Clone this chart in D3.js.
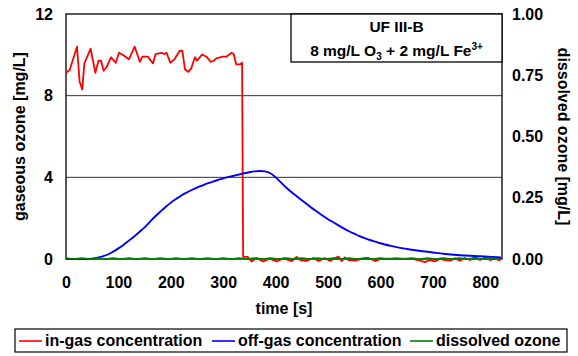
<!DOCTYPE html>
<html><head><meta charset="utf-8">
<script src="https://cdn.jsdelivr.net/npm/d3@7"></script>
<style>
body{margin:0;background:#fff;}
svg text{font-family:"Liberation Sans",Arial,sans-serif;font-weight:bold;fill:#000;}
</style></head>
<body><svg id="c" width="578" height="356"></svg>
<script>
// ---------- data ----------
const xTicks = [0,100,200,300,400,500,600,700,800];
const leftTicks = [0,4,8,12];
const rightTicks = [0,0.25,0.5,0.75,1.0];
const rightTickLabels = ["0.00","0.25","0.50","0.75","1.00"];
const seriesNames = ["in-gas concentration","off-gas concentration","dissolved ozone"];
const seriesColors = ["#ff0000","#0000ff","#008000"];

const inGasTime = [0,7,13,21,26,31,35,47,56,62,67,72,78,86,95,101,109,120,131,141,146,156,166,171,182,188,192,199,207,217,222,227,233,239,246,250,260,268,276,282,287,299,306,316,320,325,332,336,
  338,347,354,364,376,389,402,415,431,440,447,459,472,482,494,504,513,520,526,532,539,552,564,577,590,600,613,629,648,663,676,685,695,704,714,723,733,742,752,761,771,780,790,800,809,819,829];
const inGasValue = [9.12,9.26,9.75,10.4,8.68,8.31,9.58,10.3,9.12,9.71,9.71,9.22,9.42,9.88,9.61,10.1,9.99,9.78,10.4,9.66,9.91,9.91,9.58,10.04,10.1,10.04,10.1,9.61,9.78,10.2,10.2,9.29,9.17,9.34,9.88,9.71,10.02,9.91,9.66,9.71,9.83,9.91,9.91,10.1,10.04,9.53,9.53,9.61,
  0.1,0.1,-0.12,0.05,-0.12,0.02,-0.12,0.03,-0.1,0.1,-0.05,-0.1,0.05,-0.1,0.05,-0.1,0.05,0.12,-0.1,0.08,-0.05,-0.08,0,0.05,-0.1,0,0.02,0,0.02,0,-0.08,-0.15,-0.05,-0.12,0.02,-0.05,-0.08,0.03,-0.08,0.05,-0.05,0.1,-0.05,0.08,-0.05,0.02,-0.08];

const offGasTime = [0,20,40,50,60,70,80,90,100,110,120,130,140,150,160,170,180,190,200,210,220,230,240,250,260,270,280,290,300,310,320,330,340,350,360,370,380,390,400,410,420,430,440,450,460,470,480,490,500,510,520,530,540,550,560,570,580,590,600,620,640,660,680,700,720,740,760,780,800,815,830];
const offGasValue = [0,0,0,0.02,0.06,0.13,0.22,0.36,0.52,0.7,0.9,1.1,1.32,1.55,1.82,2.08,2.32,2.55,2.76,2.94,3.11,3.25,3.38,3.5,3.6,3.7,3.79,3.87,3.95,4.02,4.08,4.14,4.2,4.25,4.29,4.31,4.29,4.2,4.0,3.75,3.5,3.28,3.08,2.88,2.68,2.48,2.3,2.12,1.95,1.8,1.65,1.5,1.36,1.24,1.12,1.02,0.93,0.85,0.77,0.64,0.53,0.45,0.38,0.32,0.26,0.21,0.17,0.15,0.12,0.1,0.07];

const dissolvedTime = [0,15,30,45,60,75,90,105,120,135,150,165,180,195,210,225,240,255,270,285,300,315,330,345,360,375,390,405,420,435,450,465,480,495,510,525,540,555,570,585,600,615,630,645,660,675,690,705,720,735,750,765,780,795,810,825];
const dissolvedValue = [0.004,0,0.004,0,0.004,0,0.004,0,0.004,0,0.004,0,0.004,0,0.004,0,0.004,0,0.004,0,0.004,0,0.004,0,0.004,0,0.004,0,0.004,0,0.004,0,0.004,0,0.004,0,0.004,0,0.004,0,0.004,0,0.004,0,0.004,0,0.004,0,0.004,0,0.004,0,0.004,0,0.004,0];

// ---------- layout ----------
const svg = d3.select("#c");
const L = 66, R = 502, T = 14, B = 259;
const x = d3.scaleLinear().domain([0, 832]).range([L, R]);
const yL = d3.scaleLinear().domain([0, 12]).range([B, T]);
const yR = d3.scaleLinear().domain([0, 1]).range([B, T]);

// gridlines
svg.append("g").selectAll("line").data([4,8]).join("line")
  .attr("x1", L).attr("x2", R).attr("y1", d => yL(d)).attr("y2", d => yL(d))
  .attr("stroke", "#333").attr("stroke-width", 1);

// plot border
svg.append("rect").attr("x", L).attr("y", T).attr("width", R - L).attr("height", B - T)
  .attr("fill", "none").attr("stroke", "#000").attr("stroke-width", 1.3);

// axes
const fs = 16;
const gx = svg.append("g").attr("transform", `translate(0,${B})`)
  .call(d3.axisBottom(x).tickValues(xTicks).tickSize(0).tickFormat(d3.format("d")));
gx.select(".domain").remove();
gx.selectAll("text").attr("dy", null).attr("y", 29).style("font-size", fs + "px");

const gl = svg.append("g").attr("transform", `translate(${L},0)`)
  .call(d3.axisLeft(yL).tickValues(leftTicks).tickSize(0).tickPadding(13));
gl.select(".domain").remove();
gl.selectAll("text").style("font-size", fs + "px");

const gr = svg.append("g").attr("transform", `translate(${R},0)`)
  .call(d3.axisRight(yR).tickValues(rightTicks).tickSize(0).tickPadding(10)
    .tickFormat((d, i) => rightTickLabels[i]));
gr.select(".domain").remove();
gr.selectAll("text").style("font-size", fs + "px");

// axis titles
svg.append("text").attr("x", (L + R) / 2).attr("y", 314).attr("text-anchor", "middle")
  .style("font-size", fs + "px").text("time [s]");
svg.append("text").attr("transform", `translate(25,${(T + B) / 2}) rotate(-90)`).attr("text-anchor", "middle")
  .style("font-size", fs + "px").text("gaseous ozone [mg/L]");
svg.append("text").attr("transform", `translate(558,${(T + B) / 2}) rotate(90)`).attr("text-anchor", "middle")
  .style("font-size", fs + "px").text("dissolved ozone [mg/L]");

// series
const lineL = d3.line().x(d => x(d[0])).y(d => yL(d[1]));
const lineR = d3.line().x(d => x(d[0])).y(d => yR(d[1]));
svg.append("path").datum(d3.zip(inGasTime, inGasValue)).attr("d", lineL)
  .attr("fill", "none").attr("stroke", seriesColors[0]).attr("stroke-width", 1.8).attr("stroke-linejoin", "round");
svg.append("path").datum(d3.zip(offGasTime, offGasValue)).attr("d", d3.line().curve(d3.curveMonotoneX).x(d => x(d[0])).y(d => yL(d[1])))
  .attr("fill", "none").attr("stroke", seriesColors[1]).attr("stroke-width", 1.9);
svg.append("path").datum(d3.zip(dissolvedTime, dissolvedValue)).attr("d", lineR)
  .attr("fill", "none").attr("stroke", seriesColors[2]).attr("stroke-width", 1.6);

// title box
svg.append("rect").attr("x", 291).attr("y", T).attr("width", R - 291).attr("height", 48)
  .attr("fill", "#fff").attr("stroke", "#000").attr("stroke-width", 1.3);
svg.append("text").attr("x", 396.5).attr("y", 32).attr("text-anchor", "middle")
  .style("font-size", "15.5px").text("UF III-B");
const t2 = svg.append("text").attr("x", 396.5).attr("y", 56).attr("text-anchor", "middle").style("font-size", "15.5px");
t2.append("tspan").text("8 mg/L O");
t2.append("tspan").attr("dy", 4).style("font-size", "10px").text("3");
t2.append("tspan").attr("dy", -4).text(" + 2 mg/L Fe");
t2.append("tspan").attr("dy", -6).style("font-size", "10px").text("3+");

// legend
svg.append("rect").attr("x", 15).attr("y", 329).attr("width", 552).attr("height", 23)
  .attr("fill", "#fff").attr("stroke", "#000").attr("stroke-width", 1.2);
const legX = [19, 212, 410];
const lg = svg.append("g").selectAll("g").data(seriesNames).join("g")
  .attr("transform", (d, i) => `translate(${legX[i]},341)`);
lg.append("line").attr("x1", 0).attr("x2", 23).attr("y1", 0).attr("y2", 0)
  .attr("stroke", (d, i) => seriesColors[i]).attr("stroke-width", 1.6);
lg.append("text").attr("x", 26).attr("y", 5).style("font-size", fs + "px").text(d => d);
</script></body></html>
